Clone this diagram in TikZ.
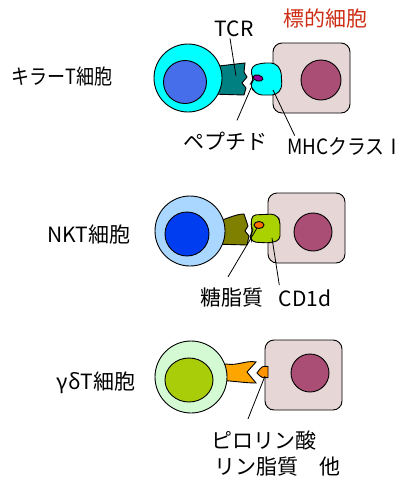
\documentclass[tikz,border=0pt]{standalone}
\usepackage{fontspec}
\setmainfont{Noto Sans CJK JP}
\usetikzlibrary{shapes.geometric}

\definecolor{killout}{RGB}{0,255,255}
\definecolor{killnuc}{RGB}{70,110,235}
\definecolor{tcrteal}{RGB}{0,128,128}
\definecolor{pepviolet}{RGB}{150,0,150}
\definecolor{tgtpink}{RGB}{230,214,214}
\definecolor{tgtnuc}{RGB}{170,78,118}
\definecolor{tgtred}{RGB}{205,45,20}
\definecolor{nktout}{RGB}{170,215,255}
\definecolor{nktnuc}{RGB}{0,60,240}
\definecolor{nktolive}{RGB}{128,128,0}
\definecolor{cdlime}{RGB}{170,210,0}
\definecolor{lipidorange}{RGB}{255,110,0}
\definecolor{gdout}{RGB}{212,250,212}
\definecolor{gdnuc}{RGB}{170,205,10}
\definecolor{gdorange}{RGB}{255,165,0}

\begin{document}
\begin{tikzpicture}[x=1pt,y=-1pt,line width=0.9pt,
	cell/.style={circle,draw,inner sep=0pt},
	target/.style={draw,fill=tgtpink,rounded corners=9pt,minimum width=77pt,minimum height=70pt},
	tgtnucleus/.style={circle,draw,fill=tgtnuc,minimum size=40pt,inner sep=0pt},
	lbl/.style={font=\fontsize{21}{24}\selectfont,inner sep=1pt},
	pointer/.style={line width=0.8pt}]

\useasboundingbox (0,0) rectangle (405,480);

% killer T cell
\filldraw[fill=tcrteal] (210,67) -- (245,63) -- (244,72) -- (247,77) -- (242,83) -- (246,88) -- (244,95) -- (210,94) -- cycle;
\node[cell,fill=killout,minimum size=68pt] (killer) at (188,78) {};
\node[cell,fill=killnuc,minimum size=43pt] (killnuc) at (185,82) {};
\node[target] (tgt1) at (311.5,78) {};
\node[tgtnucleus] (tgtnuc1) at (321,80) {};
\filldraw[fill=killout,rounded corners=4pt] (252,66) -- (262,63) -- (275,63) -- (281,70) -- (282,88) -- (276,95) -- (258,95) -- (253,90) -- (250,84) -- (254,80) -- (251,74) -- cycle;
\filldraw[fill=pepviolet,rotate around={-15:(258,78)}] (258,78) ellipse (5 and 3);

\node[lbl] (killlbl) at (62,77) {\scalebox{.86}[1]{キラーT細胞}};
\node[lbl] (tcr) at (234,29) {TCR};
\node[lbl,text=tgtred] (tgtlbl) at (325,18) {標的細胞};
\node[lbl] (pep) at (225,141) {ペプチド};
\node[lbl,anchor=east,inner sep=0pt] (mhc) at (404,146) {\scalebox{.9}[1]{MHCクラスⅠ}};

\coordinate (tcrend) at (236,76);
\coordinate (pepend) at (251,88);
\coordinate (mhcend) at (273,90);
\draw[pointer] ([xshift=-4pt]tcr.south) -- (tcrend);
\draw[pointer] ([xshift=12pt,yshift=10pt]pep.north) -- (pepend);
\draw[pointer] ([xshift=8pt,yshift=1pt]mhc.north west) -- (mhcend);

% NKT cell
\filldraw[fill=nktolive] (212,223) .. controls (225,220) and (235,214) .. (244,214) -- (248,226) -- (245,231) -- (249,236) -- (247,245) -- (212,244) -- cycle;
\node[cell,fill=nktout,minimum size=70pt] (nkt) at (190,231) {};
\node[cell,fill=nktnuc,minimum size=44pt] (nktnuc) at (187,234) {};
\node[target] (tgt2) at (306.5,228) {};
\node[tgtnucleus,minimum size=38pt] (tgtnuc2) at (313,232) {};
\filldraw[fill=cdlime,rounded corners=4pt] (252,215) -- (275,214) -- (280,220) -- (280,240) -- (270,243) -- (252,242) -- (250,236) -- (253,231) -- (251,226) -- cycle;
\filldraw[fill=lipidorange] (259,225) ellipse (5 and 3.5);

\node[lbl] (nktlbl) at (89,235) {NKT細胞};
\node[lbl] (sugar) at (232,298) {糖脂質};
\node[lbl] (cd) at (305,298) {CD1d};

\coordinate (sugarend) at (257,228);
\coordinate (cdend) at (272,238);
\draw[pointer] ([xshift=-4pt,yshift=10pt]sugar.north) -- (sugarend);
\draw[pointer] ([xshift=2pt,yshift=3pt]cd.north west) -- (cdend);

% gamma delta T cell
\filldraw[fill=gdorange] (215,367) -- (226,364) .. controls (238,366) and (246,360) .. (256,362) -- (247,372) -- (256,383) .. controls (245,383) and (235,381) .. (215,380) -- cycle;
\node[cell,fill=gdout,minimum size=72pt] (gd) at (191,377) {};
\node[ellipse,draw,fill=gdnuc,minimum width=48pt,minimum height=44pt,inner sep=0pt] (gdnuc) at (189,380) {};
\node[target] (tgt3) at (303.5,375) {};
\node[tgtnucleus,minimum size=38pt] (tgtnuc3) at (310,373) {};
\filldraw[fill=gdorange!90!red] (268,366.5) .. controls (262,366) .. (257,373) .. controls (262,378) .. (268,377.5) -- cycle;

\node[lbl] (gdlbl) at (96,383) {γδT細胞};
\node[lbl] (pyro) at (264,440) {ピロリン酸};
\node[lbl] (phos) at (277,467) {リン脂質　他};

\coordinate (pyroend) at (265,376);
\draw[pointer] ([xshift=-16pt,yshift=10pt]pyro.north) -- (pyroend);
\end{tikzpicture}
\end{document}
